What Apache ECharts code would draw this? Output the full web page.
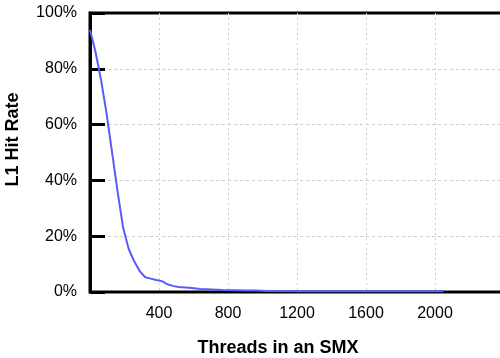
<!DOCTYPE html>
<html>
<head>
<meta charset="utf-8">
<script src="https://cdn.jsdelivr.net/npm/echarts@6/dist/echarts.min.js"></script>
<style>
    html, body { margin: 0; padding: 0; background: #fff; }
    #chart { width: 500px; height: 358px; }
</style>
</head>
<body>
<div id="chart"></div>
<script>
// 线程数 (x) 与 L1 命中率 (%)
const threads = [0, 32, 64, 96, 128, 160, 192, 224, 256, 288, 320, 352, 384, 416, 448, 480, 512,
    576, 640, 704, 768, 832, 896, 960, 1024, 1280, 1536, 1792, 2048];
const hitRate = [94, 86, 76, 64, 50, 36, 23, 15.5, 11, 7.5, 5.3, 4.8, 4.3, 3.9, 2.8, 2.2, 1.8,
    1.5, 1.1, 0.9, 0.7, 0.6, 0.5, 0.5, 0.4, 0.3, 0.3, 0.3, 0.3];
const xTicks = [400, 800, 1200, 1600, 2000];

document.addEventListener('DOMContentLoaded', function() {
    const chart = echarts.init(document.getElementById('chart'));

    const option = {
        animation: false,
        textStyle: { fontFamily: 'Liberation Sans, Arial, sans-serif' },
        grid: {
            left: 90,
            right: -4,
            top: 13,
            bottom: 66,
            outerBoundsMode: 'none',
            containLabel: false,
            show: true,
            borderColor: '#000',
            borderWidth: 3
        },
        xAxis: {
            type: 'value',
            min: 0,
            max: 2400,
            interval: 400,
            name: 'Threads in an SMX',
            nameLocation: 'middle',
            nameGap: 47,
            nameTextStyle: {
                fontSize: 18,
                fontWeight: 'bold',
                color: '#000',
                padding: [0, 38, 0, 0]
            },
            axisLine: { show: false },
            axisTick: { show: false },
            axisLabel: {
                fontSize: 16,
                color: '#000',
                margin: 14,
                showMinLabel: false,
                formatter: function(v) {
                    return xTicks.indexOf(v) >= 0 ? String(v) : '';
                }
            },
            splitLine: {
                show: true,
                showMinLine: false,
                showMaxLine: false,
                lineStyle: { color: '#ccc', type: [2, 3], width: 1 }
            }
        },
        yAxis: {
            type: 'value',
            min: 0,
            max: 100,
            interval: 20,
            name: 'L1 Hit Rate',
            nameLocation: 'middle',
            nameGap: 68,
            nameTextStyle: {
                fontSize: 18,
                fontWeight: 'bold',
                color: '#000',
                padding: [0, 0, 0, 26]
            },
            axisLine: { show: true, lineStyle: { color: '#000', width: 3 } },
            axisTick: {
                show: true,
                inside: true,
                length: 15,
                lineStyle: { color: '#000', width: 3 }
            },
            axisLabel: {
                fontSize: 16,
                color: '#000',
                margin: 13,
                formatter: '{value}%'
            },
            splitLine: {
                show: true,
                showMinLine: false,
                showMaxLine: false,
                lineStyle: { color: '#ccc', type: [3, 3], width: 1 }
            }
        },
        series: [
            {
                type: 'line',
                data: threads.map((t, i) => [t, hitRate[i]]),
                showSymbol: false,
                symbol: 'none',
                lineStyle: { color: '#5a5aff', width: 2 },
                z: 3
            }
        ]
    };

    chart.setOption(option);

    window.addEventListener('resize', function() {
        chart.resize();
    });
});
</script>
</body>
</html>
